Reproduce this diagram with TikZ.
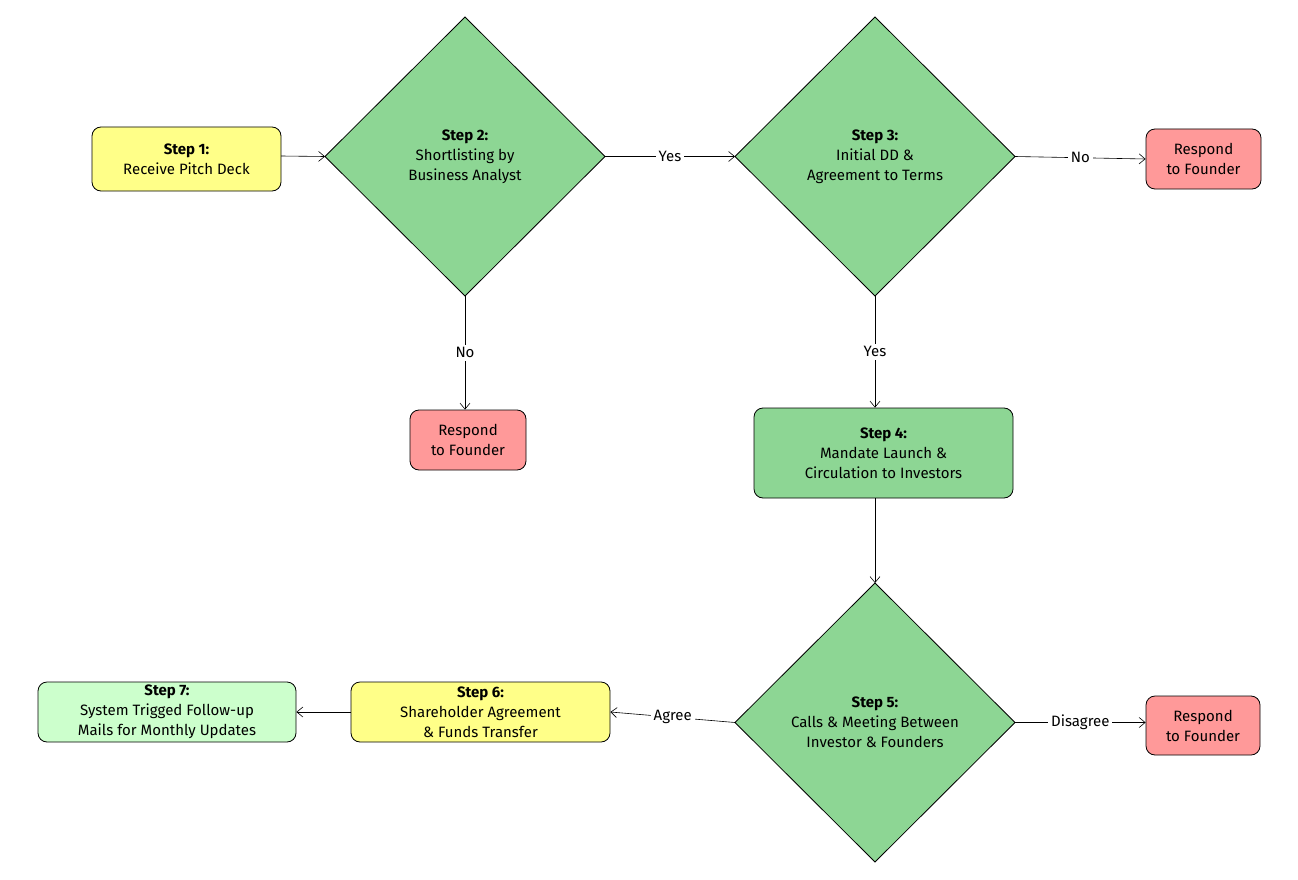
\documentclass[tikz,border=0pt]{standalone}
\usepackage{fontspec}
\setmainfont{Fira Sans}
\usetikzlibrary{shapes.geometric,arrows.meta}
\definecolor{ylw}{HTML}{FFFF88}
\definecolor{grn}{HTML}{8DD694}
\definecolor{lgrn}{HTML}{CCFFCC}
\definecolor{red}{HTML}{FF9999}
\begin{document}
\begin{tikzpicture}[x=1pt,y=-1pt,
  every node/.style={font=\fontsize{15}{20}\selectfont, align=center, inner sep=0pt},
  box/.style={draw, rounded corners=9pt, line width=0.8pt},
  dia/.style={draw, diamond, line width=0.8pt, fill=grn, minimum width=280pt, minimum height=279pt, outer sep=0pt},
  arr/.style={-{Straight Barb[length=6pt,width=10pt]}, line width=0.6pt},
  lbl/.style={fill=white, inner sep=3pt}]
\useasboundingbox (0,0) rectangle (1298,880);
\node[box, fill=ylw, minimum width=189pt, minimum height=64pt] (s1) at (186.5,159) {\textbf{Step 1:}\\Receive Pitch Deck};
\node[dia] (d2) at (465,156.5) {\textbf{Step 2:}\\Shortlisting by\\Business Analyst};
\node[dia] (d3) at (875,156.5) {\textbf{Step 3:}\\Initial DD \&\\Agreement to Terms};
\node[box, fill=red, minimum width=115pt, minimum height=60pt] (r1) at (1203.5,159) {Respond\\to Founder};
\node[box, fill=red, minimum width=116pt, minimum height=60pt] (r2) at (468,440) {Respond\\to Founder};
\node[box, fill=grn, minimum width=259pt, minimum height=90pt] (s4) at (883.5,453) {\textbf{Step 4:}\\Mandate Launch \&\\Circulation to Investors};
\node[dia] (d5) at (875,722.5) {\textbf{Step 5:}\\Calls \& Meeting Between\\Investor \& Founders};
\node[box, fill=red, minimum width=114pt, minimum height=59pt] (r3) at (1203,725.5) {Respond\\to Founder};
\node[box, fill=ylw, minimum width=259pt, minimum height=60pt] (s6) at (480.5,712) {\textbf{Step 6:}\\Shareholder Agreement\\\& Funds Transfer};
\node[box, fill=lgrn, minimum width=258pt, minimum height=60pt] (s7) at (167,712) {\textbf{Step 7:}\\System Trigged Follow-up\\Mails for Monthly Updates};
\coordinate (s1e) at (281,156);
\draw[arr] (s1e) -- (d2.west);
\draw[arr] (d2.east) -- node[lbl]{Yes} (d3.west);
\draw[arr] (d3.east) -- node[lbl]{No} (r1.west);
\draw[arr] (d2.south) -- node[lbl]{No} (r2.north -| d2.south);
\draw[arr] (d3.south) -- node[lbl]{Yes} (d3.south |- s4.north);
\draw[arr] (s4.south -| d5.north) -- (d5.north);
\draw[arr] (d5.west) -- node[lbl]{Agree} (s6.east);
\draw[arr] (d5.east) -- node[lbl]{Disagree} (r3.west |- d5.east);
\draw[arr] (s6.west) -- (s7.east);
\end{tikzpicture}
\end{document}
